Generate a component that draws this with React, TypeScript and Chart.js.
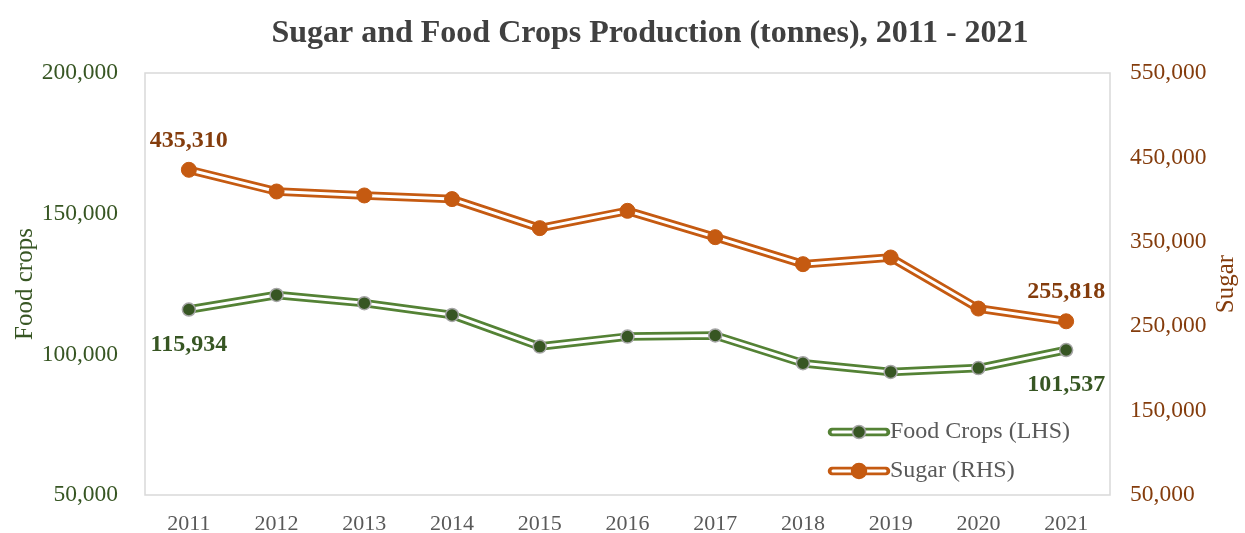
import React, { useEffect, useRef } from "react";
import { Chart, registerables } from "chart.js";

Chart.register(...registerables);

const years = ["2011", "2012", "2013", "2014", "2015", "2016", "2017", "2018", "2019", "2020", "2021"];
const foodCrops = [115934, 121100, 118200, 114000, 102750, 106300, 106700, 96850, 93750, 95100, 101537];
const sugar = [435310, 409600, 404900, 400600, 366200, 386700, 355500, 323500, 331400, 270900, 255818];

const leftMin = 50000;
const leftMax = 200000;
const leftStep = 50000;
const rightMin = 50000;
const rightMax = 550000;
const rightStep = 100000;

const titleText = "Sugar and Food Crops Production (tonnes), 2011 - 2021";
const leftAxisTitle = "Food crops";
const rightAxisTitle = "Sugar";
const foodLabel = "Food Crops (LHS)";
const sugarLabel = "Sugar (RHS)";

const GREEN_LINE = "#548235";
const GREEN_DARK = "#375623";
const MARKER_BORDER = "#A5A5A5";
const ORANGE = "#C55A11";
const BROWN = "#843C0C";
const GRAY_TEXT = "#595959";
const TITLE_COLOR = "#404040";
const SERIF = "'Liberation Serif', 'Times New Roman', serif";

const fmt = (v: number) => v.toLocaleString("en-US");

const decorPlugin = {
  id: "decor",
  beforeDatasetsDraw(chart: any) {
    const { ctx, chartArea } = chart;
    ctx.save();
    ctx.strokeStyle = "#D9D9D9";
    ctx.lineWidth = 1.5;
    ctx.strokeRect(chartArea.left, chartArea.top, chartArea.right - chartArea.left, chartArea.bottom - chartArea.top);
    ctx.restore();
  },
  afterDraw(chart: any) {
    const { ctx, chartArea, width } = chart;
    ctx.save();
    // Title
    ctx.fillStyle = TITLE_COLOR;
    ctx.font = `bold 32px ${SERIF}`;
    ctx.textAlign = "center";
    ctx.textBaseline = "middle";
    ctx.fillText(titleText, 650, 34);

    // Axis titles
    const midY = (chartArea.top + chartArea.bottom) / 2;
    ctx.font = `25px ${SERIF}`;
    ctx.save();
    ctx.translate(25, midY);
    ctx.rotate(-Math.PI / 2);
    ctx.fillStyle = GREEN_DARK;
    ctx.fillText(leftAxisTitle, 0, 0);
    ctx.restore();
    ctx.save();
    ctx.translate(width - 19, midY);
    ctx.rotate(-Math.PI / 2);
    ctx.fillStyle = BROWN;
    ctx.fillText(rightAxisTitle, 0, 0);
    ctx.restore();

    // Data labels (first & last)
    ctx.font = `bold 24px ${SERIF}`;
    const foodMeta = chart.getDatasetMeta(0);
    const sugarMeta = chart.getDatasetMeta(1);
    const last = years.length - 1;
    [0, last].forEach((i) => {
      const fp = foodMeta.data[i];
      const sp = sugarMeta.data[i];
      ctx.fillStyle = GREEN_DARK;
      ctx.fillText(fmt(foodCrops[i]), fp.x, fp.y + 35);
      ctx.fillStyle = BROWN;
      ctx.fillText(fmt(sugar[i]), sp.x, sp.y - 29);
    });

    // Legend
    const items = [
      { label: foodLabel, line: GREEN_LINE, fill: GREEN_DARK, border: MARKER_BORDER, r: 6.5, y: chartArea.bottom - 63 },
      { label: sugarLabel, line: ORANGE, fill: ORANGE, border: ORANGE, r: 7.5, y: chartArea.bottom - 24 },
    ];
    const x0 = chartArea.right - 280;
    const len = 58;
    items.forEach((it) => {
      ctx.lineCap = "round";
      ctx.strokeStyle = it.line;
      ctx.lineWidth = 8.5;
      ctx.beginPath();
      ctx.moveTo(x0 + 2, it.y);
      ctx.lineTo(x0 + len - 2, it.y);
      ctx.stroke();
      ctx.strokeStyle = "#FFFFFF";
      ctx.lineWidth = 3;
      ctx.beginPath();
      ctx.moveTo(x0 + 3, it.y);
      ctx.lineTo(x0 + len - 3, it.y);
      ctx.stroke();
      ctx.beginPath();
      ctx.arc(x0 + len / 2, it.y, it.r, 0, Math.PI * 2);
      ctx.fillStyle = it.fill;
      ctx.fill();
      ctx.lineWidth = 1.5;
      ctx.strokeStyle = it.border;
      ctx.stroke();
      ctx.font = `24px ${SERIF}`;
      ctx.fillStyle = GRAY_TEXT;
      ctx.textAlign = "left";
      ctx.textBaseline = "middle";
      ctx.fillText(it.label, x0 + len + 2, it.y);
    });
    ctx.restore();
  },
};

export default function App() {
  const ref = useRef<HTMLCanvasElement | null>(null);

  useEffect(() => {
    if (!ref.current) return;
    const chart = new Chart(ref.current, {
      type: "line",
      data: {
        labels: years,
        datasets: [
          {
            label: foodLabel,
            data: foodCrops,
            yAxisID: "yL",
            showLine: false,
            pointRadius: 6.5,
            pointBackgroundColor: GREEN_DARK,
            pointBorderColor: MARKER_BORDER,
            pointBorderWidth: 1.5,
            order: 0,
          },
          {
            label: sugarLabel,
            data: sugar,
            yAxisID: "yR",
            showLine: false,
            pointRadius: 7.5,
            pointBackgroundColor: ORANGE,
            pointBorderColor: ORANGE,
            pointBorderWidth: 1,
            order: 0,
          },
          {
            label: foodLabel + " inner",
            data: foodCrops,
            yAxisID: "yL",
            borderColor: "#FFFFFF",
            borderWidth: 3,
            pointRadius: 0,
            borderJoinStyle: "round",
            order: 1,
          },
          {
            label: sugarLabel + " inner",
            data: sugar,
            yAxisID: "yR",
            borderColor: "#FFFFFF",
            borderWidth: 3,
            pointRadius: 0,
            borderJoinStyle: "round",
            order: 1,
          },
          {
            label: foodLabel + " outer",
            data: foodCrops,
            yAxisID: "yL",
            borderColor: GREEN_LINE,
            borderWidth: 8.5,
            pointRadius: 0,
            borderJoinStyle: "round",
            order: 2,
          },
          {
            label: sugarLabel + " outer",
            data: sugar,
            yAxisID: "yR",
            borderColor: ORANGE,
            borderWidth: 8.5,
            pointRadius: 0,
            borderJoinStyle: "round",
            order: 2,
          },
        ],
      },
      options: {
        animation: false,
        responsive: false,
        maintainAspectRatio: false,
        devicePixelRatio: 1,
        layout: { padding: { top: 73, left: 0, right: 0, bottom: 0 } },
        plugins: {
          legend: { display: false },
          title: { display: false },
          tooltip: { enabled: false },
        },
        scales: {
          x: {
            offset: true,
            grid: { display: false, drawTicks: false },
            border: { display: false },
            ticks: {
              color: GRAY_TEXT,
              font: { family: SERIF, size: 22 },
              padding: 16,
              autoSkip: false,
              maxRotation: 0,
            },
            afterFit: (s: any) => {
              s.height = 38;
            },
          },
          yL: {
            position: "left",
            min: leftMin,
            max: leftMax,
            grid: { display: false, drawTicks: false },
            border: { display: false },
            ticks: {
              stepSize: leftStep,
              color: GREEN_DARK,
              font: { family: SERIF, size: 23.5 },
              padding: 27,
              callback: (v: any) => fmt(Number(v)),
            },
            afterFit: (s: any) => {
              s.width = 145;
              s.paddingTop = 14;
              s.paddingBottom = 14;
            },
          },
          yR: {
            position: "right",
            min: rightMin,
            max: rightMax,
            grid: { display: false, drawTicks: false },
            border: { display: false },
            ticks: {
              stepSize: rightStep,
              color: BROWN,
              font: { family: SERIF, size: 23.5 },
              padding: 20,
              callback: (v: any) => fmt(Number(v)),
            },
            afterFit: (s: any) => {
              s.width = 135;
              s.paddingTop = 14;
              s.paddingBottom = 14;
            },
          },
        },
      },
      plugins: [decorPlugin],
    });
    return () => chart.destroy();
  }, []);

  return (
    <div style={{ position: "fixed", left: 0, top: 0, width: 1245, height: 533, background: "#FFFFFF" }}>
      <canvas ref={ref} width={1245} height={533} style={{ display: "block", width: 1245, height: 533 }} />
    </div>
  );
}
